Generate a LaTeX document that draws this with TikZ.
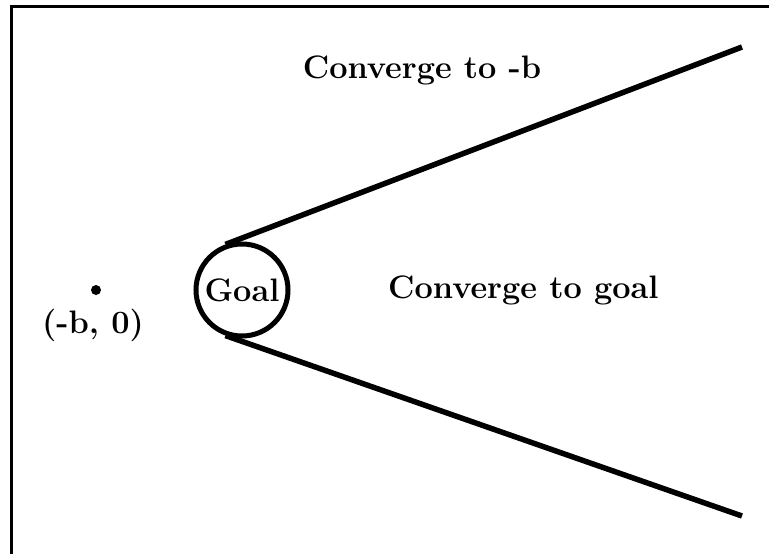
\documentclass[tikz,border=0pt]{standalone}
\usepackage{fontspec}
\begin{document}
\begin{tikzpicture}[x=1pt,y=-1pt,
  thick line/.style={line width=5.5pt},
  label text/.style={font=\fontsize{32.5}{38}\selectfont\bfseries, inner sep=0pt},
  frame line/.style={line width=3pt}]
\useasboundingbox (0,0) rectangle (769,554);
% frame (only top and left edges visible)
\coordinate (fbl) at (11,556);
\coordinate (ftl) at (11,6);
\coordinate (ftr) at (771,6);
\draw[frame line] (fbl) -- (ftl) -- (ftr);
% goal circle
\node[circle, draw, line width=5pt, minimum size=92pt, inner sep=0pt] (goal) at (242,290) {};
\node[label text, anchor=base] (goaltxt) at (242,301) {Goal};
% boundary lines
\coordinate (upend) at (742,47);
\coordinate (lowend) at (742,516);
\draw[thick line] (goal.110) -- (upend);
\draw[thick line] (goal.250) -- (lowend);
% point (-b,0)
\node[circle, fill, inner sep=0pt, minimum size=10pt] (pt) at (96,290) {};
\node[label text, anchor=base] (ptlab) at (93,333) {(-b, 0)};
% region labels
\node[label text, anchor=base] (cb) at (422,78) {Converge to -b};
\node[label text, anchor=base west] (cg) at (388,298) {Converge to goal};
\end{tikzpicture}
\end{document}
